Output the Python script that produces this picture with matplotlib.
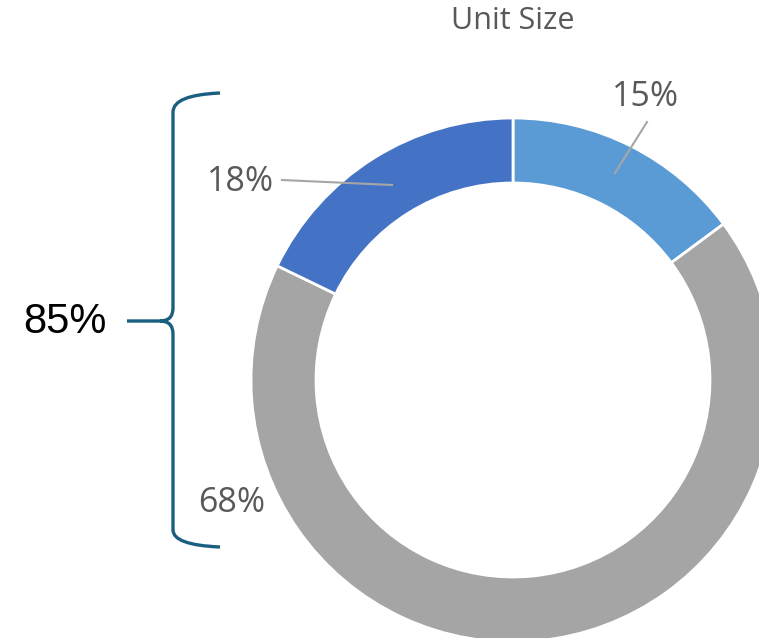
import matplotlib
matplotlib.use("Agg")
import matplotlib.pyplot as plt
from matplotlib.path import Path
from matplotlib.patches import PathPatch

title = "Unit Size"
categories = ["A", "B", "C"]
values = [15, 68, 18]
labels = ["15%", "68%", "18%"]
colors = ["#5B9BD5", "#A5A5A5", "#4472C4"]
brace_label = "85%"

W, H = 759, 638
fig = plt.figure(figsize=(W / 100, H / 100), dpi=100)
ax = fig.add_axes([0, 0, 1, 1])
ax.set_xlim(0, W)
ax.set_ylim(0, H)
ax.set_aspect("equal")
ax.axis("off")

def Y(y):
    return H - y

cx, cy, R, ring = 513, 380, 262, 65
ax.pie(values, colors=colors, startangle=90, counterclock=False,
       center=(cx, Y(cy)), radius=R, frame=True,
       wedgeprops=dict(width=ring, edgecolor="white", linewidth=2))
ax.set_xlim(0, W)
ax.set_ylim(0, H)
ax.axis("off")

font = "Open Sans"
tcol = "#595959"
ax.text(513, Y(21), title, ha="center", va="center", fontsize=22,
        color=tcol, family=font)

# data labels
lab_pos = [(646, 97), (232, 503), (241, 182)]
for lab, (x, y) in zip(labels, lab_pos):
    ax.text(x, Y(y), lab, ha="center", va="center", fontsize=24.5,
            color=tcol, family=font)

# leader lines
lc = "#A6A6A6"
ax.plot([647, 615], [Y(122), Y(173)], color=lc, lw=1.5)
ax.plot([282, 392], [Y(180), Y(185)], color=lc, lw=1.5)

# brace
bc = "#1A5E80"
verts = [(220, 93), (173, 95), (173, 112),
         (173, 308),
         (173, 321), (160, 321),
         (127, 321),
         (160, 321), (173, 321), (173, 334),
         (173, 530),
         (173, 545), (220, 547)]
codes = [Path.MOVETO, Path.CURVE3, Path.CURVE3,
         Path.LINETO,
         Path.CURVE3, Path.CURVE3,
         Path.LINETO,
         Path.MOVETO, Path.CURVE3, Path.CURVE3,
         Path.LINETO,
         Path.CURVE3, Path.CURVE3]
verts = [(x, Y(y)) for x, y in verts]
ax.add_patch(PathPatch(Path(verts, codes), fill=False, edgecolor=bc,
                       lw=2.4, capstyle="butt", joinstyle="round"))

ax.text(65, Y(322), brace_label, ha="center", va="center", fontsize=30,
        color="black", family="Liberation Sans")

fig.savefig("out.png", dpi=100)
